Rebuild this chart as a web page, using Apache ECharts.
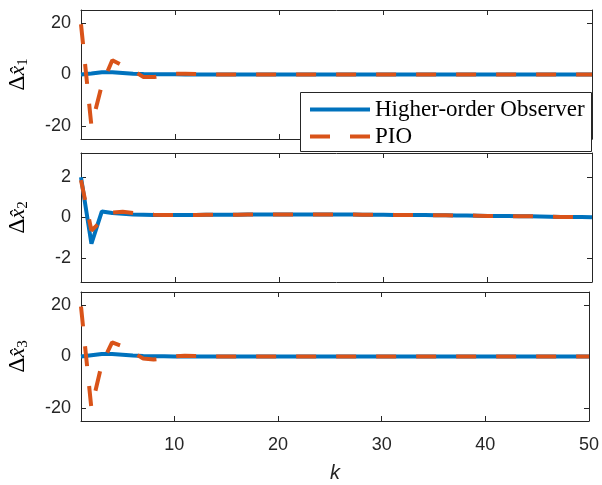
<!DOCTYPE html>
<html>
<head>
<meta charset="utf-8">
<script src="https://cdn.jsdelivr.net/npm/echarts@6/dist/echarts.min.js"></script>
<style>
html,body{margin:0;padding:0;background:#fff;}
#chart{width:602px;height:485px;}
</style>
</head>
<body>
<div id="chart"></div>
<script>
// ---- data ----
const kValues = Array.from({length: 50}, (_, i) => i + 1);
const xTicks = [10, 20, 30, 40, 50];
const yTicksBig = [-20, 0, 20];
const yTicksSmall = [-2, 0, 2];
const seriesNames = ['Higher-order Observer', 'PIO'];

const ho1 = [0, 0.4, 0.9, 0.9, 0.6, 0.3, 0.15, 0.1, 0.05, 0.05,
  0, 0, 0, 0, 0, 0, 0, 0, 0, 0,
  0, 0, 0, 0, 0, 0, 0, 0, 0, 0,
  0, 0, 0, 0, 0, 0, 0, 0, 0, 0,
  0, 0, 0, 0, 0, 0, 0, 0, 0, 0];
const pio1 = [19.5, -20, -4, 5.5, 3.5, 1.5, -1, -1, -0.3, 0.3,
  0.3, 0.2, 0.1, 0, 0, 0, 0, 0, 0, 0,
  0, 0, 0, 0, 0, 0, 0, 0, 0, 0,
  0, 0, 0, 0, 0, 0, 0, 0, 0, 0,
  0, 0, 0, 0, 0, 0, 0, 0, 0, 0];
const ho2 = [2.0, -1.3, 0.3, 0.22, 0.18, 0.15, 0.14, 0.13, 0.13, 0.13,
  0.13, 0.13, 0.14, 0.14, 0.14, 0.14, 0.15, 0.15, 0.15, 0.15,
  0.15, 0.15, 0.15, 0.15, 0.15, 0.15, 0.15, 0.14, 0.14, 0.14,
  0.13, 0.13, 0.12, 0.12, 0.11, 0.11, 0.1, 0.1, 0.09, 0.08,
  0.08, 0.07, 0.06, 0.06, 0.05, 0.04, 0.03, 0.03, 0.02, 0.01];
const pio2 = [1.85, -0.65, -0.15, 0.25, 0.28, 0.22, 0.17, 0.14, 0.13, 0.13,
  0.13, 0.13, 0.14, 0.14, 0.14, 0.14, 0.15, 0.15, 0.15, 0.15,
  0.15, 0.15, 0.15, 0.15, 0.15, 0.15, 0.15, 0.14, 0.14, 0.14,
  0.13, 0.13, 0.12, 0.12, 0.11, 0.11, 0.1, 0.1, 0.09, 0.08,
  0.08, 0.07, 0.06, 0.06, 0.05, 0.04, 0.03, 0.03, 0.02, 0.01];
const ho3 = [0, 0.5, 1.0, 1.0, 0.7, 0.4, 0.2, 0.1, 0.05, 0,
  0, 0, 0, 0, 0, 0, 0, 0, 0, 0,
  0, 0, 0, 0, 0, 0, 0, 0, 0, 0,
  0, 0, 0, 0, 0, 0, 0, 0, 0, 0,
  0, 0, 0, 0, 0, 0, 0, 0, 0, 0];
const pio3 = [19.4, -20, -3, 5.5, 4, 1.6, -0.8, -1.2, -0.8, 0,
  0.3, 0.2, 0.1, 0, 0, 0, 0, 0, 0, 0,
  0, 0, 0, 0, 0, 0, 0, 0, 0, 0,
  0, 0, 0, 0, 0, 0, 0, 0, 0, 0,
  0, 0, 0, 0, 0, 0, 0, 0, 0, 0];

// ---- chart ----
const AX = '#262626';
const BLUE = '#0072BD';
const ORANGE = '#D95319';
const panels = [
  {top: 10, ylim: [-25, 25], yt: yTicksBig, ho: ho1, pio: pio1, sub: '1'},
  {top: 153, ylim: [-3.2, 3.2], yt: yTicksSmall, ho: ho2, pio: pio2, sub: '2'},
  {top: 292, ylim: [-25, 25], yt: yTicksBig, ho: ho3, pio: pio3, sub: '3'}
];
const H = 129;
const grids = [], xAxes = [], yAxes = [], series = [], graphics = [];
const pair = arr => kValues.map((k, i) => [k, arr[i]]);

panels.forEach((p, gi) => {
  grids.push({left: 81, right: 10, top: p.top, height: H, containLabel: false});
  const isLast = gi === panels.length - 1;
  const baseX = {
    type: 'value', gridIndex: gi, min: 1, max: 50,
    axisLine: {show: true, onZero: false, lineStyle: {color: AX, width: 1}},
    axisTick: {show: true, inside: true, length: 5, customValues: xTicks, lineStyle: {color: AX}},
    splitLine: {show: false}
  };
  xAxes.push(Object.assign({}, baseX, {
    position: 'bottom',
    axisLabel: {show: isLast, customValues: xTicks, color: AX, fontSize: 18, fontFamily: 'Liberation Sans', margin: 15},
    name: isLast ? 'k' : '', nameLocation: 'middle', nameGap: 42,
    nameTextStyle: {fontSize: 20, fontStyle: 'italic', fontFamily: 'Liberation Sans', color: AX}
  }));
  xAxes.push(Object.assign({}, baseX, {position: 'top', axisLabel: {show: false}}));
  const baseY = {
    type: 'value', gridIndex: gi, min: p.ylim[0], max: p.ylim[1],
    axisLine: {show: true, onZero: false, lineStyle: {color: AX, width: 1}},
    axisTick: {show: true, inside: true, length: 5, customValues: p.yt, lineStyle: {color: AX}},
    splitLine: {show: false}
  };
  yAxes.push(Object.assign({}, baseY, {
    position: 'left',
    axisLabel: {show: true, customValues: p.yt, color: AX, fontSize: 18, fontFamily: 'Liberation Sans', margin: 10}
  }));
  yAxes.push(Object.assign({}, baseY, {position: 'right', axisLabel: {show: false}}));

  series.push({
    name: seriesNames[0], type: 'line', xAxisIndex: gi * 2, yAxisIndex: gi * 2,
    data: pair(p.ho), symbol: 'none', z: 2, animation: false,
    lineStyle: {color: BLUE, width: 4}, itemStyle: {color: BLUE}
  });
  series.push({
    name: seriesNames[1], type: 'line', xAxisIndex: gi * 2, yAxisIndex: gi * 2,
    data: pair(p.pio), symbol: 'none', z: 3, animation: false,
    lineStyle: {color: ORANGE, width: 4, type: [20, 20]}, itemStyle: {color: ORANGE}
  });

  graphics.push({
    type: 'text', x: 18, y: p.top + H / 2, rotation: Math.PI / 2, z: 5,
    style: {
      text: '{d|Δ}{x|x\u0302}{s|' + p.sub + '}',
      align: 'center', verticalAlign: 'middle',
      rich: {
        d: {fontFamily: 'Liberation Serif', fontSize: 24, fill: '#000', verticalAlign: 'middle', lineHeight: 26},
        x: {fontFamily: 'Liberation Serif', fontStyle: 'italic', fontSize: 22, fill: '#000', verticalAlign: 'middle', lineHeight: 26},
        s: {fontFamily: 'Liberation Serif', fontSize: 15, fill: '#000', verticalAlign: 'bottom', lineHeight: 26}
      }
    }
  });
});

graphics.push({
  type: 'rect', z: 10,
  shape: {x: 300.5, y: 92.5, width: 291, height: 59},
  style: {fill: '#fff', stroke: AX, lineWidth: 1}
});

const chart = echarts.init(document.getElementById('chart'), null, {renderer: 'canvas'});
chart.setOption({
  animation: false,
  backgroundColor: '#fff',
  grid: grids,
  xAxis: xAxes,
  yAxis: yAxes,
  series: series,
  graphic: graphics,
  legend: {
    data: seriesNames, orient: 'vertical', left: 308, top: 98, padding: 0,
    itemWidth: 60, itemHeight: 14, itemGap: 4, z: 20,
    itemStyle: {opacity: 0, borderWidth: 0},
    lineStyle: {width: 4},
    textStyle: {fontFamily: 'Liberation Serif', fontSize: 23, color: '#000', lineHeight: 22}
  }
});
</script>
</body>
</html>
